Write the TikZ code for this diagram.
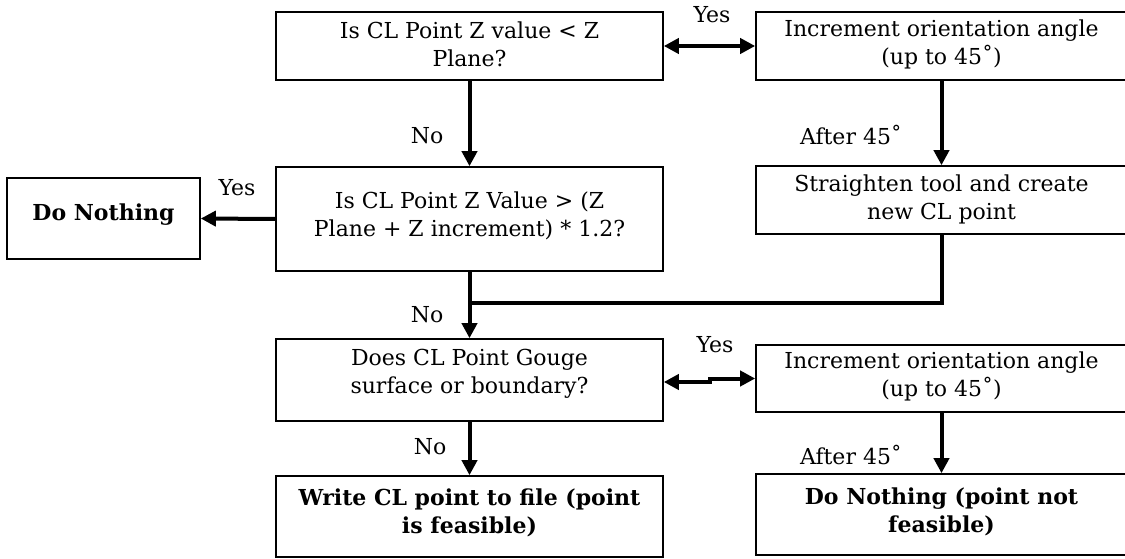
\documentclass[tikz,border=0pt]{standalone}
\usepackage{fontspec}
\setmainfont{DejaVu Serif}
\usetikzlibrary{arrows.meta,calc}
\tikzset{
  boxshape/.style={draw=black, line width=1.6pt, inner sep=0pt, minimum width=#1},
  boxshape/.default=387pt,
  txt/.style={align=center, inner sep=0pt, font=\fontsize{22}{28}\selectfont},
  txtb/.style={txt, font=\fontsize{22}{28}\selectfont\bfseries},
  lbl/.style={inner sep=0pt, font=\fontsize{22}{28}\selectfont},
  conn/.style={line width=4pt, -{Triangle[length=15pt,width=15pt]}},
  dconn/.style={line width=4pt, {Triangle[length=15pt,width=15pt]}-{Triangle[length=15pt,width=15pt]}},
  plain/.style={line width=4pt}
}
\begin{document}
\begin{tikzpicture}[x=1pt,y=-1pt]
\useasboundingbox (0,0) rectangle (1125,559);
\fill[white] (0,0) rectangle (1125,559);
% boxes
\node[boxshape, minimum height=68pt] (b1) at (469.5,46) {};
\node[boxshape=371pt, minimum height=68pt] (b2) at (941.5,46) {};
\node[boxshape=193pt, minimum height=81pt] (dn) at (103.5,218.5) {};
\node[boxshape, minimum height=104pt] (b3) at (469.5,219) {};
\node[boxshape=371pt, minimum height=68pt] (b4) at (941.5,200) {};
\node[boxshape, minimum height=82pt] (b5) at (469.5,380) {};
\node[boxshape=371pt, minimum height=67pt] (b6) at (941.5,378.5) {};
\node[boxshape, minimum height=81pt] (b7) at (469.5,516.5) {};
\node[boxshape=371pt, minimum height=81pt] (b8) at (941.5,514.5) {};
% texts
\node[txt] (t1) at (469.5,44) {Is CL Point Z value < Z\\Plane?};
\node[txt] (t2) at (941.5,44) {Increment orientation angle\\(up to 45˚)};
\node[txtb] (tdn) at (103.5,215) {Do Nothing};
\node[txt] (t3) at (469.5,216) {Is CL Point Z Value > (Z\\Plane + Z increment) * 1.2?};
\node[txt] (t4) at (941.5,199) {Straighten tool and create\\new CL point};
\node[txt] (t5) at (469.5,374) {Does CL Point Gouge\\surface or boundary?};
\node[txt] (t6) at (941.5,376) {Increment orientation angle\\(up to 45˚)};
\node[txtb] (t7) at (469.5,513) {Write CL point to file (point\\is feasible)};
\node[txtb] (t8) at (941.5,512) {Do Nothing (point not\\feasible)};
% labels
\node[lbl] (y1) at (712,15) {Yes};
\node[lbl] (n1) at (427,136) {No};
\node[lbl] (a1) at (851,135) {After 45˚};
\node[lbl] (y2) at (237,188) {Yes};
\node[lbl] (n2) at (427,315) {No};
\node[lbl] (y3) at (715,345) {Yes};
\node[lbl] (n3) at (430,447) {No};
\node[lbl] (a2) at (851,455) {After 45˚};
% connectors
\coordinate (join) at (469.5,303);
\coordinate (kink) at (710,382);
\draw[dconn] (b1.east) -- (b2.west);
\draw[conn] (b1.south) -- (b3.north);
\draw[conn] (b2.south) -- (b4.north);
\draw[conn] (b3.west) -- (dn.east);
\draw[plain] (b4.south) |- (join);
\draw[conn] (b3.south) -- (b5.north);
\draw[dconn] (b5.east |- kink) -- (kink) |- (b6.west);
\draw[conn] (b5.south) -- (b7.north);
\draw[conn] (b6.south) -- (b8.north);
\end{tikzpicture}
\end{document}
